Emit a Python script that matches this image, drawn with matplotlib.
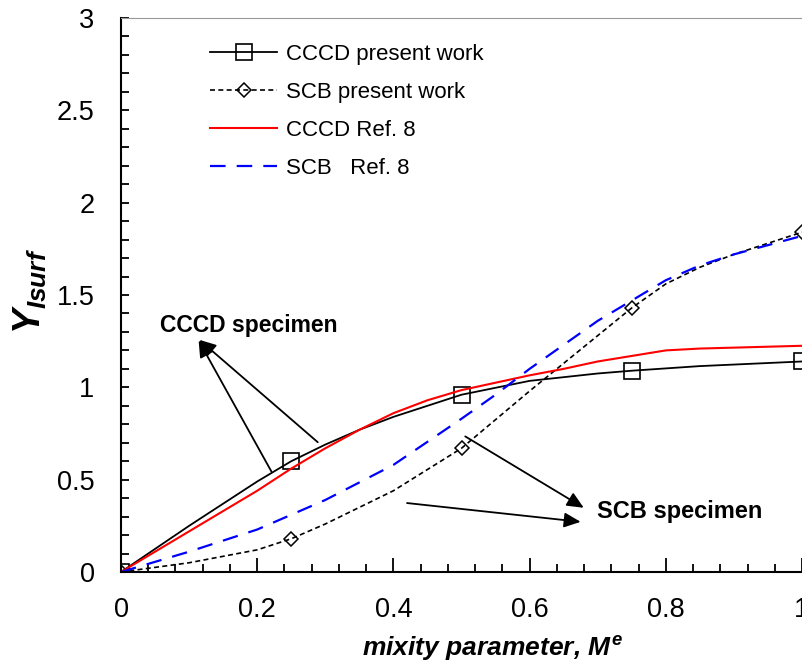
import numpy as np
import matplotlib.pyplot as plt
from matplotlib.ticker import MultipleLocator

plt.rcParams['font.family'] = ['Liberation Sans', 'DejaVu Sans']
plt.rcParams['mathtext.fontset'] = 'custom'
plt.rcParams['mathtext.it'] = 'Liberation Sans:italic:bold'
plt.rcParams['mathtext.rm'] = 'Liberation Sans:bold'

# CCCD present work (markers at 0, .25, .5, .75, 1)
x_cccd = [0, 0.05, 0.1, 0.15, 0.2, 0.25, 0.3, 0.35, 0.4, 0.45, 0.5, 0.6, 0.7, 0.75, 0.85, 1.0]
y_cccd = [0, 0.125, 0.25, 0.37, 0.49, 0.6, 0.69, 0.77, 0.84, 0.9, 0.96, 1.035, 1.075, 1.09, 1.115, 1.14]
mk_cccd = [0, 5, 10, 13, 15]

# SCB present work
x_scb = [0, 0.1, 0.2, 0.25, 0.3, 0.4, 0.5, 0.6, 0.65, 0.7, 0.75, 0.8, 0.85, 0.9, 1.0]
y_scb = [0, 0.05, 0.12, 0.18, 0.26, 0.44, 0.67, 0.98, 1.13, 1.28, 1.43, 1.56, 1.65, 1.72, 1.84]
mk_scb = [0, 3, 6, 10, 14]

# CCCD Ref. 8
x_cref = [0, 0.1, 0.2, 0.25, 0.3, 0.35, 0.4, 0.45, 0.5, 0.55, 0.6, 0.65, 0.7, 0.75, 0.8, 0.85, 0.9, 1.0]
y_cref = [0, 0.22, 0.44, 0.56, 0.67, 0.77, 0.86, 0.93, 0.985, 1.025, 1.065, 1.1, 1.14, 1.17, 1.2, 1.21, 1.215, 1.225]

# SCB Ref. 8
x_sref = [0, 0.1, 0.2, 0.25, 0.3, 0.4, 0.5, 0.55, 0.6, 0.7, 0.75, 0.8, 0.85, 0.9, 1.0]
y_sref = [0, 0.11, 0.23, 0.31, 0.39, 0.58, 0.83, 0.96, 1.1, 1.36, 1.47, 1.58, 1.66, 1.72, 1.82]

fig = plt.figure(figsize=(8.02, 6.66), dpi=100)
ax = fig.add_axes([121/802, 94/666, 681/802, 554/666])

ax.plot(x_cccd, y_cccd, '-', color='black', lw=1.3, marker='s', markevery=mk_cccd,
        markersize=11, markerfacecolor='none', markeredgewidth=1.2, label='CCCD present work')
ax.plot(x_scb, y_scb, '--', color='black', lw=1.2, dashes=(3, 2), marker='D', markevery=mk_scb,
        markersize=7, markerfacecolor='none', markeredgewidth=1.1, label='SCB present work')
ax.plot(x_cref, y_cref, '-', color='red', lw=1.5, label='CCCD Ref. 8')
ax.plot(x_sref, y_sref, '--', color='blue', lw=1.6, dashes=(7, 5), label='SCB   Ref. 8')

ax.set_xlim(0, 1)
ax.set_ylim(0, 3)
ax.xaxis.set_minor_locator(MultipleLocator(0.04))
ax.yaxis.set_minor_locator(MultipleLocator(0.1))
ax.set_xticks([0, 0.2, 0.4, 0.6, 0.8, 1.0])
ax.set_xticklabels(['0', '0.2', '0.4', '0.6', '0.8', '1'])
ax.set_yticks([0, 0.5, 1, 1.5, 2, 2.5, 3])
ax.set_yticklabels(['0', '0.5', '1', '1.5', '2', '2.5', '3'])
ax.tick_params(which='both', direction='in', labelsize=19.5, width=1.3)
ax.tick_params(axis='x', which='major', length=10, pad=18)
ax.tick_params(axis='x', which='minor', length=6)
ax.tick_params(axis='y', which='both', length=6, pad=19)
ax.spines['right'].set_visible(False)
ax.spines['top'].set_color('0.6')
ax.spines['top'].set_linewidth(0.8)
ax.spines['left'].set_linewidth(1.5)
ax.spines['bottom'].set_linewidth(1.5)

ax.set_xlabel(r'mixity parameter, $M^{e}$', fontsize=19, fontweight='bold', style='italic')
ax.xaxis.set_label_coords(0.546, -0.112)
ax.set_ylabel(r'$Y_{Isurf}$', fontsize=27)
ax.yaxis.set_label_coords(-0.105, 0.507)

leg = ax.legend(loc='upper left', bbox_to_anchor=(0.131, 0.9526), frameon=False, fontsize=16,
                handlelength=3.0, labelspacing=0.76, handletextpad=0.4,
                borderpad=0, borderaxespad=0)

ap = dict(arrowstyle='-|>,head_length=1.0,head_width=0.45', color='black', lw=1.3)
ax.annotate('', xy=(0.112, 1.267), xytext=(0.292, 0.693), arrowprops=ap)
ax.annotate('', xy=(0.112, 1.267), xytext=(0.223, 0.53), arrowprops=ap)
ax.text(0.057, 1.337, 'CCCD specimen', fontsize=16.5, fontweight='bold', va='center')

ax.annotate('', xy=(0.683, 0.34), xytext=(0.502, 0.742), arrowprops=ap)
ax.annotate('', xy=(0.679, 0.27), xytext=(0.416, 0.375), arrowprops=ap)
ax.text(0.699, 0.325, 'SCB specimen', fontsize=17, fontweight='bold', va='center')

plt.savefig('out.png', dpi=100)
